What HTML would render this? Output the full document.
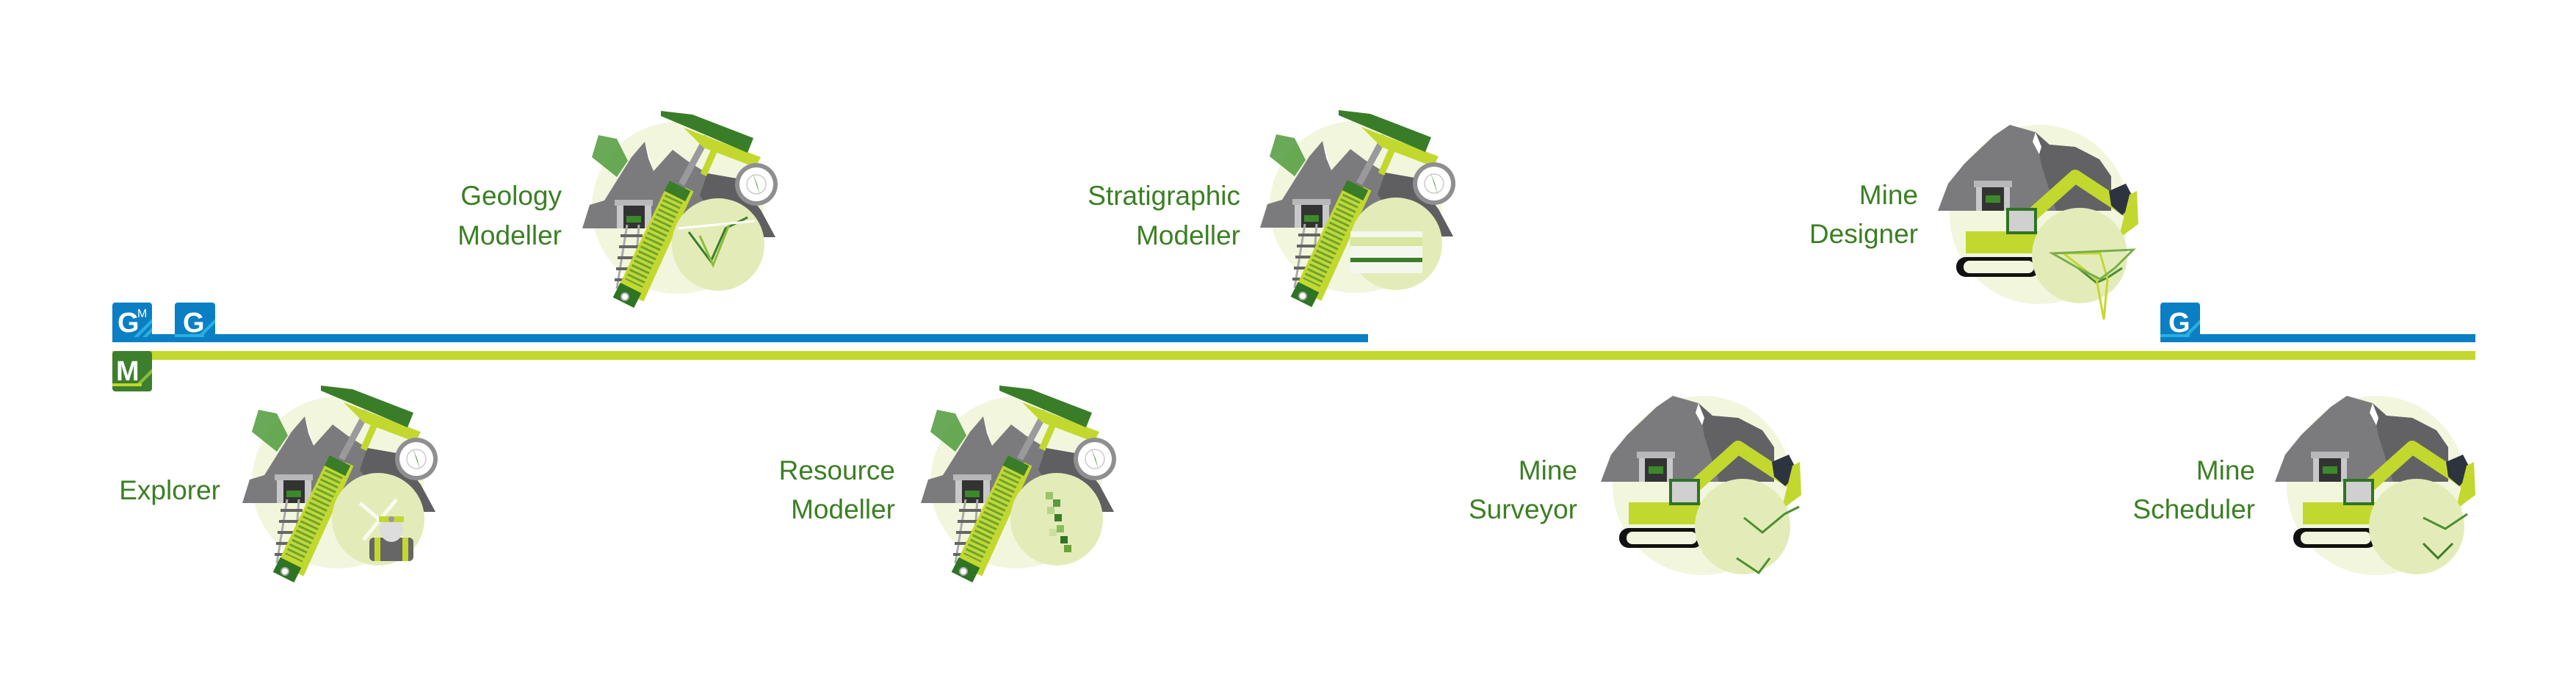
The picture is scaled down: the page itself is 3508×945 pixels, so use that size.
<!DOCTYPE html>
<html><head><meta charset="utf-8"><style>
html,body{margin:0;padding:0;background:#fff;width:3508px;height:945px;overflow:hidden}
svg{display:block}
text{font-family:"Liberation Sans",sans-serif;fill:#3b7f23;font-size:37px}
</style></head><body>
<svg width="3508" height="945" viewBox="0 0 3508 945" xmlns="http://www.w3.org/2000/svg">
<defs>
<g id="hammer">
<circle cx="130" cy="137" r="117" fill="#f1f6dd"/>
<polygon fill="#4f9a3a" opacity=".85" points="22,38 47,43 62,73 47,95 13,68"/>
<polygon fill="#7b7b7e" points="0,165 10,133 30,127 67,68 85,47 97,87 123,58 143,73 170,90 210,97 243,140 263,177 200,177 190,165"/>
<polygon fill="#5f5f62" points="170,90 210,97 243,140 263,177 200,177 160,120"/>
<polygon fill="#fff" points="85,47 92,68 97,87 90,70"/>
<rect x="44" y="126" width="52" height="8" fill="#b8b8ba"/>
<rect x="47" y="134" width="47" height="31" fill="#c8c8ca"/>
<rect x="56" y="134" width="29" height="31" fill="#333"/>
<rect x="60" y="148" width="20" height="9" fill="#3b8a2a"/>
<line x1="61" y1="160" x2="47" y2="247" stroke="#aaa" stroke-width="3"/>
<line x1="77" y1="160" x2="72" y2="230" stroke="#aaa" stroke-width="3"/>
<g stroke="#666" stroke-width="4"><line x1="52" y1="175" x2="82" y2="175"/><line x1="50" y1="190" x2="80" y2="190"/><line x1="48" y1="205" x2="78" y2="205"/><line x1="46" y1="220" x2="76" y2="220"/><line x1="44" y1="235" x2="74" y2="235"/></g>
<line x1="170" y1="40" x2="135" y2="105" stroke="#9a9a9c" stroke-width="9"/>
<polygon fill="#c3d82e" points="138,28 243,68 236,82 165,55"/>
<line x1="180" y1="58" x2="165" y2="92" stroke="#c3d82e" stroke-width="9"/>
<polygon fill="#3a7d28" points="107,5 150,10 233,42 225,62 150,30 107,12"/>
<line x1="146" y1="112" x2="78" y2="262" stroke="#c3d82e" stroke-width="12"/>
<line x1="133" y1="107" x2="62" y2="255" stroke="#c3d82e" stroke-width="32"/>
<line x1="128" y1="118" x2="70" y2="240" stroke="#6aa33b" stroke-width="26" stroke-dasharray="3 4"/>
<line x1="133" y1="107" x2="126" y2="121" stroke="#3a7d28" stroke-width="32"/>
<line x1="66" y1="246" x2="56" y2="266" stroke="#2e7424" stroke-width="32"/>
<circle cx="58" cy="258" r="5" fill="#fff" stroke="#aaa" stroke-width="2"/>
<circle cx="237" cy="105" r="29" fill="#8f8f92"/>
<circle cx="237" cy="105" r="23" fill="#fff"/>
<circle cx="237" cy="105" r="13" fill="none" stroke="#ccc" stroke-width="1.5"/>
<polygon fill="#3a7d28" points="232,90 242,120 238,105"/>
<circle cx="185" cy="187" r="63" fill="#e3ecb8"/>
</g>
<g id="digger">
<circle cx="127" cy="127" r="122" fill="#f1f6dd"/>
<polygon fill="#7b7b7e" points="-11,122 3,85 25,58 65,20 87,5 122,15 141,32 176,35 209,52 225,75 225,122"/>
<polygon fill="#626265" points="122,15 141,32 176,35 209,52 225,75 225,122 150,122 130,60"/>
<polygon fill="#fff" points="122,15 130,35 127,45 118,28"/>
<rect x="38" y="81" width="52" height="9" fill="#b8b8ba"/>
<rect x="41" y="90" width="46" height="32" fill="#c8c8ca"/>
<rect x="49" y="90" width="30" height="32" fill="#333"/>
<rect x="54" y="101" width="20" height="10" fill="#3b8a2a"/>
<polyline points="109,135 176,75 252,125" fill="none" stroke="#c3d82e" stroke-width="18" stroke-linejoin="round"/>
<polygon fill="#2d3440" points="222,95 245,85 258,110 240,128 225,115"/>
<polygon fill="#c3d82e" points="250,100 260,95 262,140 235,160"/>
<rect x="27" y="150" width="103" height="30" fill="#c3d82e"/>
<rect x="84" y="120" width="38" height="32" fill="#d0d0d0" stroke="#2e7424" stroke-width="4"/>
<rect x="14" y="185" width="114" height="27" rx="13" fill="#111"/>
<rect x="24" y="190" width="96" height="17" rx="8" fill="#f1f6dd"/>
<circle cx="182" cy="183" r="65" fill="#e3ecb8"/>
</g>
</defs>

<!-- lines -->
<rect x="153" y="455" width="1710" height="11" fill="#0a7fc4"/>
<rect x="2942" y="455" width="429" height="11" fill="#0a7fc4"/>
<rect x="153" y="478" width="3218" height="12" fill="#c3d82e"/>

<!-- badges -->
<g>
<rect x="153" y="412" width="54" height="54" rx="4" fill="#0a7fc4"/>
<polygon points="153,459 194,459 207,446 207,452 200,459 153,459" fill="#27b0e0"/>
<polygon points="188,459 207,440 207,434 182,459" fill="#27b0e0"/>
<text x="160" y="452" style="font-size:38px;font-weight:bold;fill:#fff">G</text>
<text x="187" y="432" style="font-size:16px;fill:#fff">M</text>
<rect x="238" y="412" width="55" height="54" rx="4" fill="#0a7fc4"/>
<polygon points="268,459 293,434 293,440 274,459" fill="#27b0e0"/>
<rect x="238" y="455" width="40" height="4" fill="#27b0e0"/>
<text x="249" y="452" style="font-size:38px;font-weight:bold;fill:#fff">G</text>
<rect x="2942" y="412" width="54" height="54" rx="4" fill="#0a7fc4"/>
<polygon points="2972,459 2996,435 2996,441 2978,459" fill="#27b0e0"/>
<rect x="2942" y="455" width="40" height="4" fill="#27b0e0"/>
<text x="2953" y="452" style="font-size:38px;font-weight:bold;fill:#fff">G</text>
<rect x="153" y="478" width="54" height="55" rx="4" fill="#3c7f2c"/>
<polygon points="183,526 207,502 207,508 189,526" fill="#8cbc3c"/>
<rect x="153" y="522" width="40" height="4" fill="#c3d82e"/>
<text x="158" y="518" style="font-size:38px;font-weight:bold;fill:#fff">M</text>
</g>

<!-- icons -->
<use href="#hammer" x="330" y="520"/>
<use href="#hammer" x="793" y="146"/>
<use href="#hammer" x="1254" y="520"/>
<use href="#hammer" x="1716" y="145"/>
<use href="#digger" x="2650" y="165"/>
<use href="#digger" x="2191" y="534"/>
<use href="#digger" x="3109" y="534"/>

<!-- explorer detail -->
<g transform="translate(330,520)">
<line x1="160" y1="165" x2="220" y2="215" stroke="#fff" stroke-width="5" opacity=".8"/>
<line x1="210" y1="160" x2="165" y2="215" stroke="#fff" stroke-width="5" opacity=".8"/>
<rect x="173" y="212" width="60" height="32" rx="6" fill="#666"/>
<rect x="180" y="212" width="8" height="32" fill="#c3d82e"/><rect x="218" y="212" width="8" height="32" fill="#c3d82e"/>
<ellipse cx="203" cy="200" rx="16" ry="18" fill="#ddd"/>
<rect x="186" y="183" width="34" height="8" fill="#c3d82e"/>
<circle cx="203" cy="187" r="4" fill="#999"/>
</g>
<!-- geology detail -->
<g transform="translate(793,146)" fill="none" stroke="#3a7d28" stroke-width="3">
<path d="M145,170 L175,210 L195,165 L225,150"/>
<path d="M160,175 L178,215 L200,160" stroke="#8cbc3c"/>
<line x1="130" y1="165" x2="235" y2="155" stroke="#fff"/>
</g>
<!-- resource detail -->
<g transform="translate(1254,520)">
<rect x="170" y="150" width="10" height="10" fill="#9ac36a"/><rect x="180" y="160" width="10" height="10" fill="#5a9a3c"/>
<rect x="172" y="170" width="10" height="10" fill="#b7d48a"/><rect x="182" y="180" width="10" height="10" fill="#3a7d28"/>
<rect x="185" y="195" width="10" height="10" fill="#8cbc5c"/><rect x="190" y="210" width="10" height="10" fill="#2e7424"/>
<rect x="175" y="200" width="10" height="10" fill="#c8e0a0"/><rect x="195" y="222" width="10" height="10" fill="#6aa33b"/>
</g>
<!-- strat detail -->
<g transform="translate(1716,145)">
<rect x="123" y="170" width="98" height="57" fill="#f4f7ee"/>
<rect x="123" y="178" width="98" height="12" fill="#d8e6a0"/>
<rect x="123" y="206" width="98" height="6" fill="#3a7d28"/>
</g>
<!-- digger details -->
<g fill="none" stroke="#4a8f30" stroke-width="3">
<path d="M2830,365 L2855,385 L2870,378 L2890,365" transform="translate(0,0)"/>
<path d="M2810,345 L2860,345 L2870,380 L2865,435 L2855,380 Z" stroke="#c3d82e"/>
<path d="M2795,345 L2905,340 L2880,365 L2860,380 L2830,365 Z" stroke="#7aad4c"/>
<path d="M2375,705 L2400,725 L2430,700 L2450,690" />
<path d="M2365,760 L2395,780 L2410,760"/>
<path d="M3300,705 L3330,720 L3360,700"/>
<path d="M3300,740 L3320,760 L3340,740" stroke="#3a7d28"/>
</g>

<!-- labels -->
<g text-anchor="end">
<text x="765" y="279">Geology</text><text x="765" y="333">Modeller</text>
<text x="1689" y="279">Stratigraphic</text><text x="1689" y="333">Modeller</text>
<text x="2612" y="278">Mine</text><text x="2612" y="331">Designer</text>
<text x="300" y="680">Explorer</text>
<text x="1219" y="653">Resource</text><text x="1219" y="706">Modeller</text>
<text x="2148" y="653">Mine</text><text x="2148" y="706">Surveyor</text>
<text x="3071" y="653">Mine</text><text x="3071" y="706">Scheduler</text>
</g>
</svg>
</body></html>
